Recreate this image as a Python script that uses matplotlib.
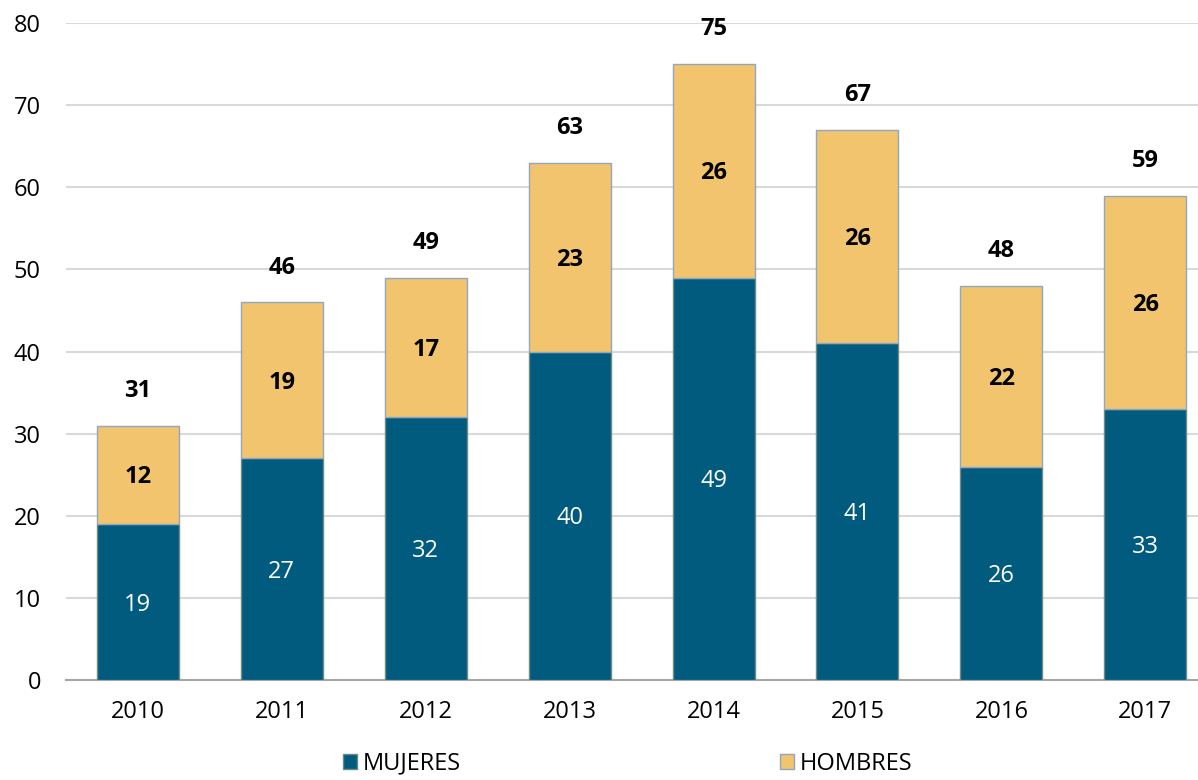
import matplotlib
matplotlib.use("Agg")

import matplotlib.pyplot as plt
import numpy as np

years = ["2010", "2011", "2012", "2013", "2014", "2015", "2016", "2017"]
mujeres = [19, 27, 32, 40, 49, 41, 26, 33]
hombres = [12, 19, 17, 23, 26, 26, 22, 26]

plt.rcParams["font.family"] = ["Open Sans", "DejaVu Sans"]

C_MUJ = "#005B7F"
C_HOM = "#F2C46D"

fig = plt.figure(figsize=(11.98, 7.8), dpi=100)
ax = fig.add_axes([0.055, 0.128, 0.945, 0.8425])

x = np.arange(len(years))
muj = np.array(mujeres)
hom = np.array(hombres)
total = muj + hom

b1 = ax.bar(x, muj, width=0.57, color=C_MUJ, edgecolor="#6f8a7f", linewidth=1,
            label="MUJERES", zorder=3)
b2 = ax.bar(x, hom, width=0.57, bottom=muj, color=C_HOM, edgecolor="#8fa8bf",
            linewidth=1, label="HOMBRES", zorder=3)

for xi, m, h, t in zip(x, muj, hom, total):
    ax.text(xi, m / 2 - 0.3, str(m), ha="center", va="center", color="white",
            fontsize=17, zorder=4)
    ax.text(xi, m + h / 2 - 0.3, str(h), ha="center", va="center", color="black",
            fontsize=17, fontweight="bold", zorder=4)
    ax.annotate(str(t), (xi, t), xytext=(0, 25), textcoords="offset points",
                ha="center", va="center", fontsize=17, fontweight="bold")

ax.set_ylim(0, 80)
ax.set_xlim(-0.5, 7.366)
ax.set_yticks(np.arange(0, 81, 10))
ax.set_xticks(x)
ax.set_xticklabels(years)
ax.tick_params(axis="both", length=0, labelsize=17)
ax.tick_params(axis="y", pad=18)
ax.tick_params(axis="x", pad=14)
ax.grid(axis="y", color="#d9d9d9", linewidth=1.5, zorder=0)
ax.set_axisbelow(True)
for side in ["top", "right", "left"]:
    ax.spines[side].set_visible(False)
ax.spines["bottom"].set_color("#a6a6a6")
ax.spines["bottom"].set_linewidth(1.5)

fig.legend(handles=[b1, b2], loc="center", bbox_to_anchor=(0.524, 0.021),
           ncol=2, frameon=False, fontsize=17, handlelength=0.6,
           handleheight=0.6, handletextpad=0.25, columnspacing=13.5)

fig.savefig("out.png", dpi=100)
